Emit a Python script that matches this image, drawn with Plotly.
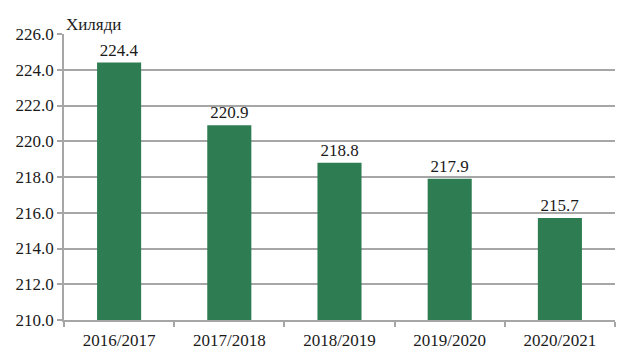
import plotly.graph_objects as go

categories = ["2016/2017", "2017/2018", "2018/2019", "2019/2020", "2020/2021"]
values = [224.4, 220.9, 218.8, 217.9, 215.7]
unit_label = "Хиляди"

font = dict(family="'Liberation Serif', 'Times New Roman', serif", size=17, color="#1a1a1a")
grid = "#a6a6a6"

fig = go.Figure(go.Bar(
    x=categories, y=values,
    marker=dict(color="#2e7d52", line=dict(width=0)),
    text=[f"{v:.1f}" for v in values], textposition="outside",
    textfont=font, cliponaxis=False, width=0.4,
))

fig.update_layout(
    width=624, height=362,
    margin=dict(l=64, r=9, t=34, b=42),
    paper_bgcolor="white", plot_bgcolor="white",
    font=font, showlegend=False,
    xaxis=dict(
        showgrid=False, showline=True, linecolor=grid, linewidth=1.5,
        ticks="outside", tickson="boundaries", ticklen=5, tickcolor=grid,
        tickwidth=1.5, tickfont=font, automargin=False, ticklabelstandoff=4,
    ),
    yaxis=dict(
        range=[210, 226], dtick=2, tickformat=".1f",
        showgrid=True, gridcolor=grid, gridwidth=1.5,
        showline=True, linecolor=grid, linewidth=1.5,
        ticks="outside", ticklen=5, tickcolor=grid, tickwidth=1.5,
        tickfont=font, zeroline=False, automargin=False,
    ),
    annotations=[dict(
        text=unit_label, xref="paper", yref="paper", x=0, y=1,
        xanchor="left", yanchor="bottom", showarrow=False, font=font, yshift=-2,
    )],
)

fig.write_html("out.html", config={"displayModeBar": False},
               post_script="document.body.style.margin='0';")
